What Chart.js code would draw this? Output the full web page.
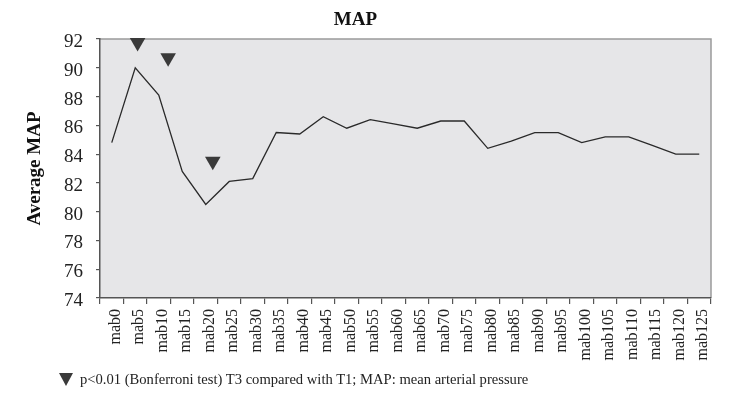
<!DOCTYPE html>
<html><head><meta charset="utf-8">
<script src="https://cdn.jsdelivr.net/npm/chart.js@4/dist/chart.umd.min.js"></script>
<style>
html,body{margin:0;padding:0;background:#fff;}
#wrap{position:relative;width:752px;height:400px;}
#note{position:absolute;left:59px;top:371px;font-family:"Liberation Serif",serif;font-size:14.6px;color:#222;white-space:nowrap;display:flex;align-items:center;}
#tri{display:inline-block;width:0;height:0;border-left:7.5px solid transparent;border-right:7.5px solid transparent;border-top:13px solid #3a3a3a;margin-right:7px;}
</style></head><body>
<div id="wrap"><canvas id="c" width="752" height="400"></canvas>
<div id="note"><span id="tri"></span><span>p&lt;0.01 (Bonferroni test) T3 compared with T1; MAP: mean arterial pressure</span></div></div>
<script>
const categories = ["mab0","mab5","mab10","mab15","mab20","mab25","mab30","mab35","mab40","mab45","mab50","mab55","mab60","mab65","mab70","mab75","mab80","mab85","mab90","mab95","mab100","mab105","mab110","mab115","mab120","mab125"];
const mapValues = [84.8, 90.0, 88.1, 82.8, 80.5, 82.1, 82.3, 85.5, 85.4, 86.6, 85.8, 86.4, 86.1, 85.8, 86.3, 86.3, 84.4, 84.9, 85.5, 85.5, 84.8, 85.2, 85.2, 84.6, 84.0, 84.0];
const markerX = [1.1, 2.4, 4.3];
const markerY = [91.75, 90.7, 83.5];
const yTickMin = 74, yTickMax = 92, yTickStep = 2;

const FONT = '"Liberation Serif", "Times New Roman", serif';

const plotBg = {
  id: 'plotBg',
  beforeDraw(chart) {
    const {ctx, chartArea: a} = chart;
    ctx.save();
    ctx.fillStyle = '#e6e6e8';
    ctx.fillRect(a.left, a.top, a.right - a.left, a.bottom - a.top);
    ctx.strokeStyle = '#9a9a9a';
    ctx.lineWidth = 1.5;
    ctx.beginPath();
    ctx.moveTo(a.left, a.top);
    ctx.lineTo(a.right, a.top);
    ctx.lineTo(a.right, a.bottom);
    ctx.stroke();
    ctx.restore();
  }
};

new Chart(document.getElementById('c'), {
  type: 'line',
  data: {
    labels: categories,
    datasets: [
      {
        label: 'MAP',
        data: mapValues,
        borderColor: '#2a2a2a',
        borderWidth: 1.3,
        pointRadius: 0,
        tension: 0,
        xAxisID: 'x',
        yAxisID: 'y'
      },
      {
        label: 'p<0.01',
        data: markerX.map((x, i) => ({x: x, y: markerY[i]})),
        showLine: false,
        pointStyle: 'triangle',
        rotation: 180,
        pointRadius: 9,
        pointBackgroundColor: '#3a3a3a',
        pointBorderWidth: 0,
        borderWidth: 0,
        xAxisID: 'xm',
        yAxisID: 'y',
        clip: false
      }
    ]
  },
  options: {
    responsive: false,
    animation: false,
    layout: {padding: {left: 0, right: 41, top: 0, bottom: 0}},
    plugins: {
      legend: {display: false},
      tooltip: {enabled: false},
      title: {
        display: true,
        text: 'MAP',
        color: '#111',
        font: {family: FONT, size: 19, weight: 'bold', lineHeight: 1.2},
        padding: {top: 9, bottom: 7.2}
      }
    },
    scales: {
      x: {
        type: 'category',
        offset: true,
        grid: {display: true, drawOnChartArea: false, offset: true, tickLength: 6, color: '#555', lineWidth: 1.2},
        border: {display: true, color: '#555', width: 1.5},
        ticks: {autoSkip: false, minRotation: 90, maxRotation: 90, padding: 5, labelOffset: 4, color: '#222', font: {family: FONT, size: 16}},
        afterFit(s) { s.height = 102; }
      },
      xm: {
        type: 'linear',
        display: false,
        min: -0.5,
        max: categories.length - 0.5
      },
      y: {
        min: yTickMin,
        max: yTickMax,
        ticks: {stepSize: yTickStep, padding: 13, labelOffset: 3, color: '#222', font: {family: FONT, size: 19}},
        grid: {display: true, drawOnChartArea: false, tickLength: 4, color: '#555', lineWidth: 1.2},
        border: {display: true, color: '#555', width: 1.5},
        title: {display: true, text: 'Average MAP', color: '#111', font: {family: FONT, size: 19, weight: 'bold', lineHeight: 1.2}, padding: {top: 23.6, bottom: 0}},
        afterFit(s) { s.width = 100; }
      }
    }
  },
  plugins: [plotBg]
});
</script>
</body></html>
